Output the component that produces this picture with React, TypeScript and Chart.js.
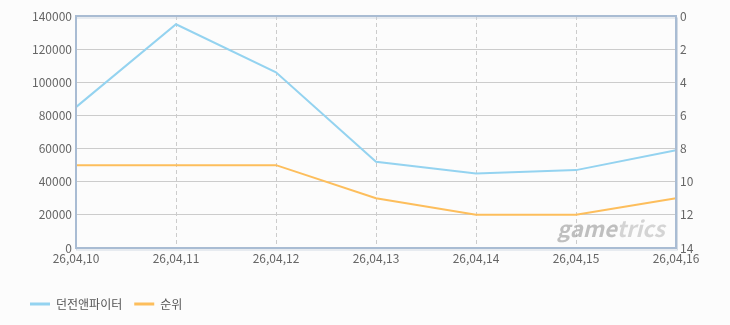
import React, { useEffect, useRef } from "react";
import { Chart, registerables } from "chart.js";

Chart.register(...registerables);

const categories = ["26,04,10", "26,04,11", "26,04,12", "26,04,13", "26,04,14", "26,04,15", "26,04,16"];
const dnfValues = [85000, 135000, 106000, 52000, 45000, 47000, 59000];
const rankValues = [9, 9, 9, 11, 12, 12, 11];
const leftTicks = [0, 20000, 40000, 60000, 80000, 100000, 120000, 140000];
const rightTicks = [0, 2, 4, 6, 8, 10, 12, 14];
const seriesNames = ["던전앤파이터", "순위"];

const FONT = "'Noto Sans CJK KR', 'Noto Sans', sans-serif";

const decorPlugin = {
  id: "decor",
  beforeDraw(chart: any) {
    const { ctx, width, height } = chart;
    ctx.save();
    ctx.fillStyle = "#fcfcfc";
    ctx.fillRect(0, 0, width, height);
    ctx.restore();
  },
  beforeDatasetsDraw(chart: any) {
    const { ctx, chartArea } = chart;
    ctx.save();
    ctx.textBaseline = "alphabetic";
    ctx.font = `italic bold 22px ${FONT}`;
    const x = chartArea.right - 119;
    const y = chartArea.bottom - 11;
    ctx.fillStyle = "rgba(165,165,165,0.7)";
    ctx.fillText("game", x, y);
    const w = ctx.measureText("game").width;
    ctx.fillStyle = "rgba(195,195,195,0.7)";
    ctx.fillText("trics", x + w, y);
    ctx.restore();
  },
  afterDatasetsDraw(chart: any) {
    const { ctx, chartArea } = chart;
    ctx.save();
    ctx.strokeStyle = "rgba(200,210,222,0.8)";
    ctx.lineWidth = 1;
    ctx.strokeRect(chartArea.left + 0.5, chartArea.top + 2, chartArea.width + 1, chartArea.height);
    ctx.strokeStyle = "#a9bcd3";
    ctx.lineWidth = 2;
    ctx.strokeRect(chartArea.left, chartArea.top, chartArea.width, chartArea.height);
    ctx.restore();
  },
};

const plainTick = (v: any) => String(v);

export default function App() {
  const ref = useRef<HTMLCanvasElement | null>(null);
  useEffect(() => {
    document.body.style.margin = "0";
    const canvas = ref.current;
    if (!canvas) return;
    const chart = new Chart(canvas, {
      type: "line",
      data: {
        labels: categories,
        datasets: [
          {
            label: seriesNames[0],
            data: dnfValues,
            borderColor: "#94d3f0",
            backgroundColor: "#94d3f0",
            borderWidth: 2,
            pointRadius: 0,
            tension: 0,
            yAxisID: "y",
          },
          {
            label: seriesNames[1],
            data: rankValues,
            borderColor: "#fdbe5c",
            backgroundColor: "#fdbe5c",
            borderWidth: 2,
            pointRadius: 0,
            tension: 0,
            yAxisID: "y1",
          },
        ],
      },
      options: {
        responsive: false,
        animation: false,
        events: [],
        layout: { padding: { left: 18, right: 0, top: 16, bottom: 5 } },
        plugins: {
          tooltip: { enabled: false },
          legend: {
            position: "bottom",
            align: "start",
            labels: {
              boxWidth: 20,
              boxHeight: 3,
              padding: 12,
              color: "#555",
              font: { family: FONT, size: 12 },
              generateLabels: (c: any) =>
                Chart.defaults.plugins.legend.labels.generateLabels(c).map((l: any) => ({ ...l, lineWidth: 0 })),
            },
          },
        },
        scales: {
          x: {
            offset: false,
            grid: { color: "#cccccc", drawTicks: false, lineWidth: 1 },
            border: { display: false, dash: [4, 3] },
            ticks: { color: "#666", font: { family: FONT, size: 12 }, padding: 3, maxRotation: 0, autoSkip: false },
            afterFit: (s: any) => {
              s.height = 38;
            },
          },
          y: {
            position: "left",
            min: 0,
            max: 140000,
            afterBuildTicks: (s: any) => {
              s.ticks = leftTicks.map((v) => ({ value: v }));
            },
            grid: { color: "#cccccc", drawTicks: false },
            border: { display: false },
            ticks: { color: "#666", font: { family: FONT, size: 12 }, padding: 4, callback: plainTick },
            afterFit: (s: any) => {
              s.width = 58;
            },
          },
          y1: {
            position: "right",
            min: 0,
            max: 14,
            reverse: true,
            afterBuildTicks: (s: any) => {
              s.ticks = rightTicks.map((v) => ({ value: v }));
            },
            grid: { drawOnChartArea: false, drawTicks: false },
            border: { display: false },
            ticks: { color: "#666", font: { family: FONT, size: 12 }, padding: 4, callback: plainTick },
            afterFit: (s: any) => {
              s.width = 54;
            },
          },
        },
      },
      plugins: [decorPlugin],
    } as any);
    return () => chart.destroy();
  }, []);
  return (
    <div style={{ width: 730, height: 325 }}>
      <canvas ref={ref} width={730} height={325} style={{ display: "block" }} />
    </div>
  );
}
